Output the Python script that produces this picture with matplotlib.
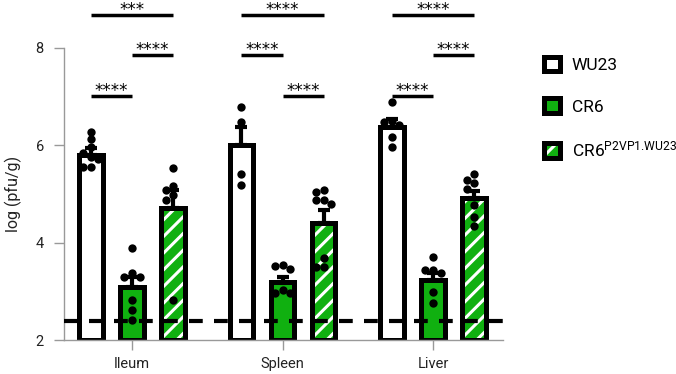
import numpy as np
import matplotlib
matplotlib.use("Agg")
import matplotlib.pyplot as plt
from matplotlib.patches import Rectangle
from matplotlib.legend_handler import HandlerTuple

plt.rcParams['font.family'] = ['Roboto', 'DejaVu Sans']
plt.rcParams['mathtext.fontset'] = 'custom'
plt.rcParams['mathtext.rm'] = 'Roboto'
plt.rcParams['mathtext.default'] = 'regular'
plt.rcParams['hatch.linewidth'] = 2.2

# ---------------- data ----------------
tissues = ["Ileum", "Spleen", "Liver"]
strains = ["WU23", "CR6", r"CR6$^{\text{P2VP1.WU23}}$"]

mean_wu23 = [5.80, 6.00, 6.38]
mean_cr6 = [3.09, 3.20, 3.23]
mean_chim = [4.71, 4.40, 4.92]

sem_wu23 = [0.14, 0.37, 0.17]
sem_cr6 = [0.20, 0.10, 0.14]
sem_chim = [0.37, 0.27, 0.15]

ileum_wu23 = [6.28, 6.13, 5.97, 5.85, 5.75, 5.72, 5.55, 5.55]
ileum_cr6 = [3.89, 3.38, 3.29, 3.29, 2.82, 2.62, 2.41]
ileum_chim = [5.54, 5.16, 5.08, 4.98, 4.87, 2.82]
spleen_wu23 = [6.79, 6.48, 5.41, 5.18]
spleen_cr6 = [3.54, 3.52, 3.46, 3.03, 2.96, 2.96]
spleen_chim = [5.08, 5.05, 4.87, 4.87, 4.80, 3.68, 3.51, 3.51]
liver_wu23 = [6.89, 6.50, 6.47, 6.42, 6.18, 5.97]
liver_cr6 = [3.71, 3.44, 3.44, 3.37, 2.99, 2.76]
liver_chim = [5.42, 5.29, 5.22, 5.11, 4.77, 4.53, 4.34]

detection_limit = 2.4

# significance brackets: tissue index, from strain, to strain, height, label
sig_tissue = [0, 0, 0, 1, 1, 1, 2, 2, 2]
sig_from = [0, 1, 0, 1, 0, 0, 0, 1, 0]
sig_to = [1, 2, 2, 2, 1, 2, 1, 2, 2]
sig_height = [7.01, 7.85, 8.68, 7.01, 7.85, 8.68, 7.01, 7.85, 8.68]
sig_label = ["****", "****", "***", "****", "****", "****", "****", "****", "****"]

yticks = [2, 4, 6, 8]

# ---------------- style ----------------
green = '#10B010'
edge_lw = 3.6
offsets = [-0.273, 0.0, 0.273]
bar_w = 0.155
base = 2

fig = plt.figure(figsize=(6.76, 3.74), dpi=100)
ax = fig.add_axes([64 / 676, 34 / 374, 439 / 676, 340.7 / 374])
ax.set_xlim(-0.452, 2.465)
ax.set_ylim(2, 9)

means = [mean_wu23, mean_cr6, mean_chim]
sems = [sem_wu23, sem_cr6, sem_chim]
points = [[ileum_wu23, spleen_wu23, liver_wu23],
          [ileum_cr6, spleen_cr6, liver_cr6],
          [ileum_chim, spleen_chim, liver_chim]]
gx = np.arange(len(tissues))

for k in range(3):
    x = gx + offsets[k]
    h = np.array(means[k]) - base
    if k == 0:
        ax.bar(x, h, bar_w, bottom=base, color='white', edgecolor='black', lw=edge_lw, zorder=2)
    elif k == 1:
        ax.bar(x, h, bar_w, bottom=base, color=green, edgecolor='black', lw=edge_lw, zorder=2)
    else:
        ax.bar(x, h, bar_w, bottom=base, color=green, edgecolor='white', lw=0, hatch='//', zorder=2)
        ax.bar(x, h, bar_w, bottom=base, fill=False, edgecolor='black', lw=edge_lw, zorder=2.1)
    ax.errorbar(x, means[k], yerr=[np.zeros(3), sems[k]], fmt='none', ecolor='black',
                elinewidth=3, capsize=4.5, capthick=3, zorder=3)

ax.axhline(detection_limit, color='black', lw=3, linestyle=(0, (3.3, 2.7)), zorder=4)

# simple swarm layout in pixel space
px_per_x = 439 / (2.465 + 0.452)
px_per_y = 340.7 / 7
dot_d = 7.2

def swarm(vals):
    order = np.argsort(vals)[::-1]
    placed = []
    offs = np.zeros(len(vals))
    for i in order:
        y = vals[i] * px_per_y
        for cand in [0, -1, 1, -2, 2, -3, 3]:
            xo = cand * dot_d * 1.05
            ok = all((xo - px) ** 2 + (y - py) ** 2 >= (dot_d * 0.95) ** 2 for px, py in placed)
            if ok:
                break
        placed.append((xo, y))
        offs[i] = xo / px_per_x
    return offs

for k in range(3):
    for g in range(3):
        vals = np.array(points[k][g])
        xs = gx[g] + offsets[k] + swarm(vals)
        ax.scatter(xs, vals, s=36, color='black', zorder=5, linewidths=0)

for t, a, b, hgt, lab in zip(sig_tissue, sig_from, sig_to, sig_height, sig_label):
    x1 = gx[t] + offsets[a]
    x2 = gx[t] + offsets[b]
    ax.plot([x1, x2], [hgt, hgt], color='black', lw=2.5, solid_capstyle='butt', clip_on=False, zorder=5)
    ax.annotate(lab, xy=((x1 + x2) / 2, hgt), xytext=(0, 0.2), textcoords='offset points',
                ha='center', va='baseline', fontsize=12, annotation_clip=False,
                family=['DejaVu Sans'])

# axes styling
for s in ['top', 'right']:
    ax.spines[s].set_visible(False)
for s in ['left', 'bottom']:
    ax.spines[s].set_color('#999999')
    ax.spines[s].set_linewidth(1.0)
ax.spines['left'].set_bounds(2, 8)
ax.set_yticks(yticks)
ax.set_yticklabels([str(v) for v in yticks])
ax.set_xticks(gx)
ax.set_xticklabels(tissues)
ax.tick_params(axis='both', colors='#999999', length=7.5, width=1.0, labelsize=10.5,
               labelcolor='#222222', pad=5)
ax.tick_params(axis='y', pad=7)
ax.set_ylabel('log (pfu/g)', fontsize=11.5, color='#222222')
ax.yaxis.set_label_coords(-0.095, 3 / 7)

# legend
h_wu = Rectangle((0, 0), 1, 1, facecolor='white', edgecolor='black', lw=edge_lw)
h_cr = Rectangle((0, 0), 1, 1, facecolor=green, edgecolor='black', lw=edge_lw)
h_ch_fill = Rectangle((0, 0), 1, 1, facecolor=green, edgecolor='white', lw=0, hatch='//')
h_ch_edge = Rectangle((0, 0), 1, 1, fill=False, edgecolor='black', lw=edge_lw)
fig.legend([h_wu, h_cr, (h_ch_fill, h_ch_edge)], strains,
           handler_map={tuple: HandlerTuple(ndivide=1, pad=0)},
           loc='upper left', bbox_to_anchor=(544 / 676, 1 - 57 / 374),
           frameon=False, fontsize=12.5, handlelength=0.9, handleheight=0.9,
           handletextpad=0.7, labelspacing=1.45, borderpad=0, borderaxespad=0)

fig.savefig('out.png', dpi=100)
